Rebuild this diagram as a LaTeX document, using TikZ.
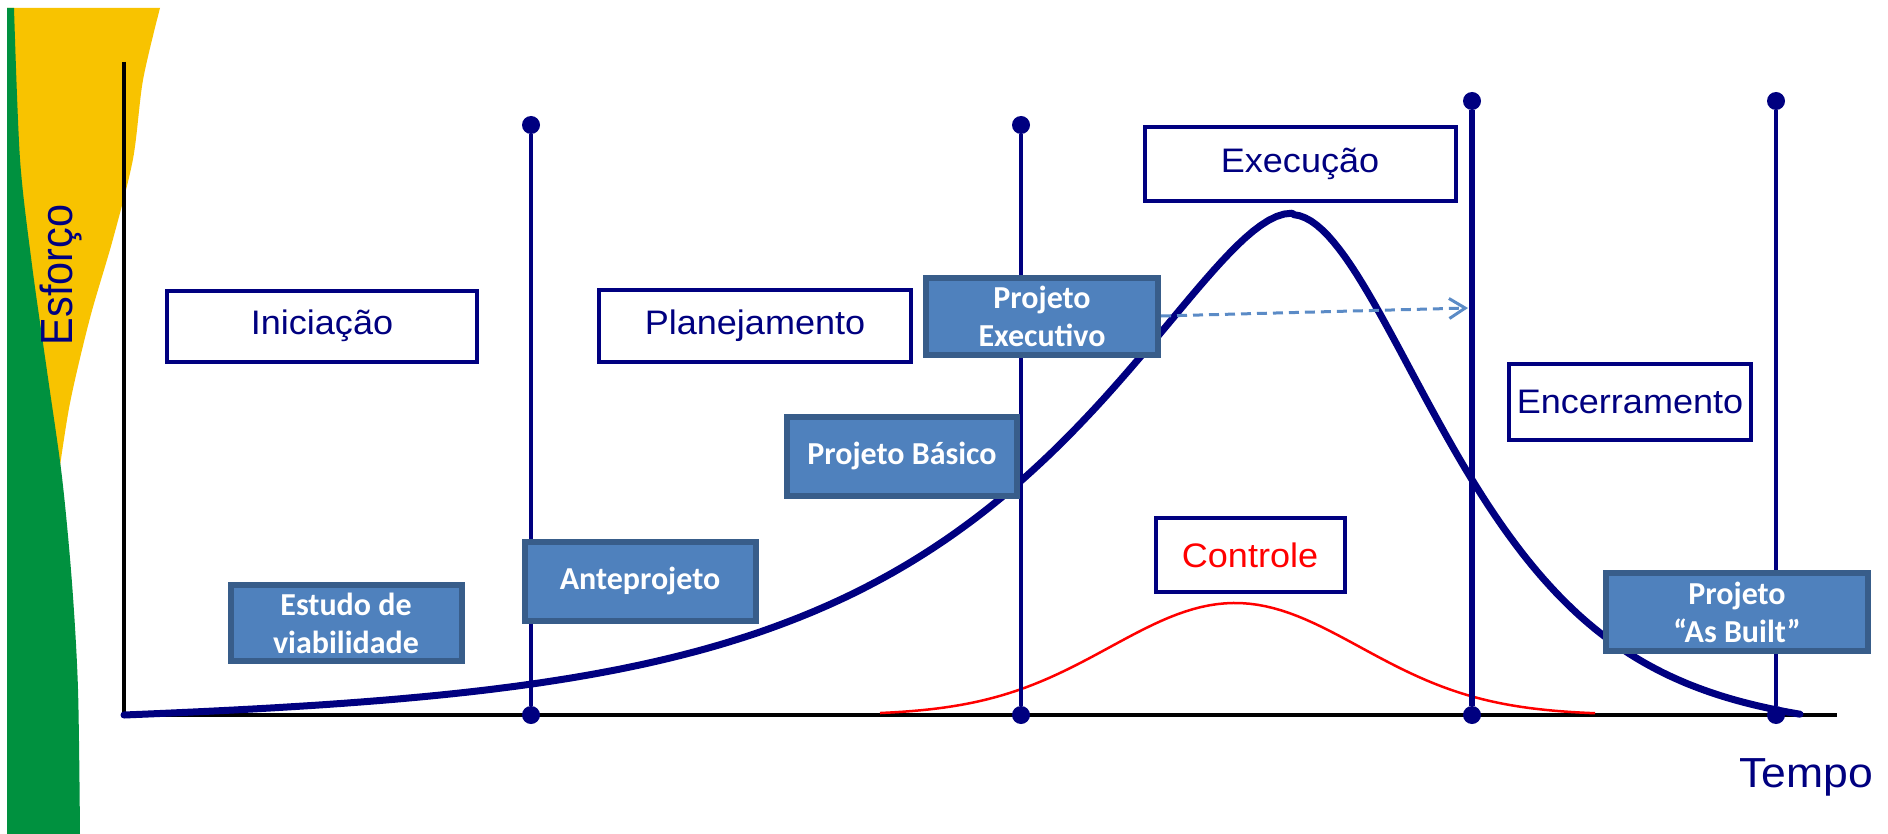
\documentclass[tikz,border=0pt]{standalone}
\usepackage{fontspec}
\setmainfont{Liberation Sans}[FakeStretch=1.06]
\newfontfamily\calibfont{Carlito}
\newfontfamily\narrowfont{Liberation Sans}[FakeStretch=0.92]
\usetikzlibrary{arrows.meta}

\definecolor{navyline}{RGB}{0,0,128}
\definecolor{boxblue}{RGB}{79,129,189}
\definecolor{boxedge}{RGB}{56,93,138}
\definecolor{arrowblue}{RGB}{91,139,198}
\definecolor{flaggreen}{RGB}{0,145,63}
\definecolor{flagyellow}{RGB}{248,195,0}

\begin{document}
\begin{tikzpicture}[x=0.5pt, y=-0.5pt,
    phase/.style={draw=navyline, line width=2pt, fill=white, text=navyline,
      font=\fontsize{17}{20}\selectfont, inner sep=0pt},
    deliver/.style={draw=boxedge, line width=3pt, fill=boxblue, text=white,
      font=\calibfont\bfseries\fontsize{16}{19}\selectfont, align=center, inner sep=0pt},
    milestone/.style={circle, fill=navyline, inner sep=0pt, minimum size=9pt}]
    \useasboundingbox (0,0) rectangle (1888,834);

    % faixa lateral
    \fill[flagyellow] (7,8) -- plot[smooth] coordinates {(160,8) (143,80) (133,159) (113,239) (90,318) (70,403) (58,480)} -- (7,480) -- cycle;
    \fill[flaggreen] (7,8) -- plot[smooth] coordinates {(14,8) (20,159) (32,265) (47,371) (62,477) (72,583) (78,689) (80,834)} -- (7,834) -- cycle;

    % eixos
    \coordinate (origin) at (124,715);
    \coordinate (ytop) at (124,62);
    \coordinate (xend) at (1837,715);
    \draw[line width=2.25pt] (ytop) -- (origin) -- (xend);
    \node[text=navyline, font=\narrowfont\fontsize{22.5}{24}\selectfont, rotate=90] (esforco) at (61,275) {Esforço};
    \node[text=navyline, font=\fontsize{21}{24}\selectfont, anchor=base] (tempo) at (1806,787) {Tempo};

    % curvas
    \draw[red, line width=1.25pt] plot[domain=880:1595, samples=90] (\x, {715-112*exp(-0.5*((\x-1235)/125)^2)});
    \draw[navyline, line width=3.5pt, line cap=round, line join=round]
      plot[domain=124:1292, samples=150] (\x, {715-502*exp(-(((1292-\x)/100)^2)/(3.226+2.375*(1292-\x)/100))*(1-exp(-(\x-124)/150))})
      -- plot[domain=1294:1800, samples=90] (\x, {715-502*exp(-(((\x-1292)/100)^2)/(2.8+0.9*(\x-1292)/100))*(1-exp(-(1805-\x)/90))});

    % marcos
    \node[milestone] (top1) at (531,125) {};
    \node[milestone] (bot1) at (531,715) {};
    \node[milestone] (top2) at (1021,125) {};
    \node[milestone] (bot2) at (1021,715) {};
    \node[milestone] (top3) at (1472,101) {};
    \node[milestone] (bot3) at (1472,715) {};
    \node[milestone] (top4) at (1776,101) {};
    \node[milestone] (bot4) at (1776,715) {};
    \draw[navyline, line width=2pt] (top1) -- (bot1);
    \draw[navyline, line width=2pt] (top2) -- (bot2);
    \draw[navyline, line width=3pt] (top3) -- (bot3);
    \draw[navyline, line width=2pt] (top4) -- (bot4);

    % fases
    \node[phase, minimum width=155pt, minimum height=35.5pt] (iniciacao) at (322,326) {Iniciação};
    \node[phase, minimum width=156pt, minimum height=36pt] (planejamento) at (755,326) {Planejamento};
    \node[phase, minimum width=155.5pt, minimum height=37pt] (execucao) at (1300,164) {Execução};
    \node[phase, minimum width=121pt, minimum height=38pt] (encerramento) at (1630,402) {Encerramento};
    \node[phase, text=red, minimum width=94.5pt, minimum height=37pt] (controle) at (1250,555) {Controle};

    % entregas
    \node[deliver, minimum width=115.5pt, minimum height=38pt] (estudo) at (346,623) {Estudo de\\viabilidade};
    \node[deliver, minimum width=115.5pt, minimum height=39.5pt] (anteprojeto) at (640,581) {Anteprojeto};
    \node[deliver, minimum width=115pt, minimum height=39.5pt] (basico) at (902,456) {Projeto Básico};
    \node[deliver, minimum width=116pt, minimum height=38.5pt] (projexec) at (1042,316) {Projeto\\Executivo};
    \node[deliver, minimum width=131pt, minimum height=39pt] (asbuilt) at (1737,612) {Projeto\\“As Built”};

    \coordinate (arrowtip) at (1468,308);
    \draw[arrowblue, line width=1.5pt, dash pattern=on 5pt off 3pt, -{Straight Barb[length=8pt, width=10pt]}] (projexec.east) -- (arrowtip);
\end{tikzpicture}
\end{document}
